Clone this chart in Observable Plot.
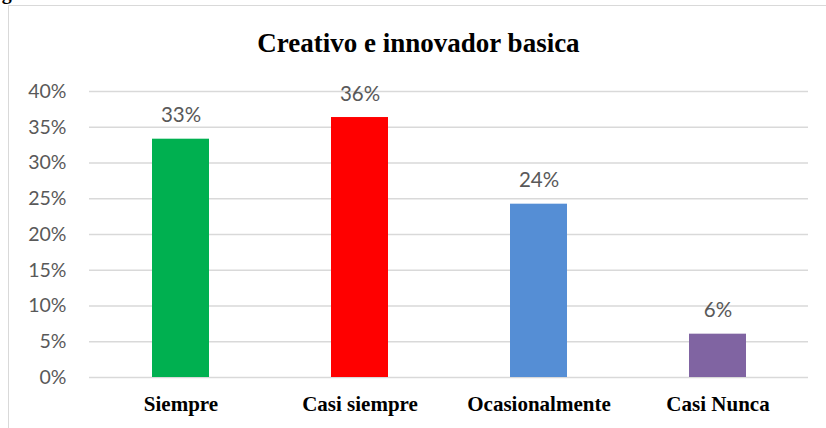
<!DOCTYPE html>
<html>
<head>
<meta charset="utf-8">
<script src="https://cdn.jsdelivr.net/npm/d3@7"></script>
<script src="https://cdn.jsdelivr.net/npm/@observablehq/plot@0.6"></script>
<style>
  html, body { margin: 0; padding: 0; background: #fff; overflow: hidden; }
  #wrap { position: relative; width: 826px; height: 428px; overflow: hidden; }
  #frame { position: absolute; left: 8px; top: 5px; width: 840px; height: 440px; border: 1.3px solid #d9d9d9; box-sizing: border-box; }
  #fig { position: absolute; left: -16px; top: -17.75px; font: bold 20px/20px "Liberation Serif", "Times New Roman", serif; color: #000; }
  #title { position: absolute; left: 0; width: 837px; top: 28px; text-align: center; font: bold 27px/30px "Liberation Serif", "Times New Roman", serif; color: #000; }
  #chart { position: absolute; left: 0; top: 0; }
</style>
</head>
<body>
<div id="wrap">
  <div id="fig">Figura</div>
  <div id="frame"></div>
  <div id="title">Creativo e innovador basica</div>
  <div id="chart"></div>
</div>
<script>
const categories = ["Siempre", "Casi siempre", "Ocasionalmente", "Casi Nunca"];
const values = [0.3333, 0.3636, 0.2424, 0.0606];
const labels = ["33%", "36%", "24%", "6%"];
const colors = ["#00b050", "#ff0000", "#558ed5", "#8064a2"];
const yTicks = [0, 0.05, 0.10, 0.15, 0.20, 0.25, 0.30, 0.35, 0.40];

const data = categories.map((c, i) => ({category: c, value: values[i], label: labels[i], color: colors[i]}));

const chart = Plot.plot({
  width: 826,
  height: 428,
  marginTop: 91,
  marginBottom: 51,
  marginLeft: 89,
  marginRight: 18,
  style: {background: "transparent", overflow: "visible"},
  x: {domain: categories, paddingInner: 0.683, paddingOuter: 0.3415, label: null},
  y: {domain: [0, 0.4], label: null},
  marks: [
    Plot.ruleY(yTicks, {stroke: "#d9d9d9", strokeWidth: 1.3}),
    Plot.barY(data, {x: "category", y: "value", fill: "color"}),
    Plot.text(data, {x: "category", y: "value", text: "label", lineAnchor: "bottom", dy: -17, fontSize: 20.5, fill: "#595959", fontFamily: "Lato, 'Open Sans', sans-serif"}),
    Plot.axisY({ticks: yTicks, tickFormat: d3.format(".0%"), tickSize: 0, tickPadding: 23, fontSize: 19.5, fill: "#595959", fontFamily: "Lato, 'Open Sans', sans-serif", label: null}),
    Plot.axisX({tickSize: 0, tickPadding: 19, fontSize: 21, fontWeight: "bold", fill: "#000", fontFamily: "'Liberation Serif', 'Times New Roman', serif", label: null})
  ]
});
document.getElementById("chart").appendChild(chart);
</script>
</body>
</html>
